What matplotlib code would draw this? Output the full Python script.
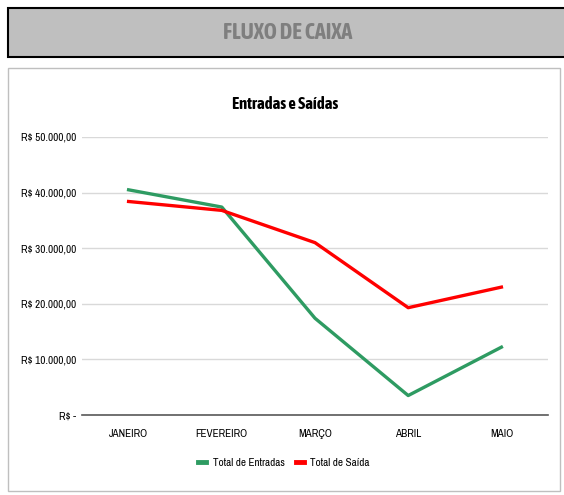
import matplotlib.pyplot as plt
from matplotlib.lines import Line2D
from matplotlib.patches import Rectangle
from matplotlib.ticker import FuncFormatter

# dados
meses = ["JANEIRO", "FEVEREIRO", "MARÇO", "ABRIL", "MAIO"]
entradas = [40500, 37400, 17400, 3500, 12200]
saidas = [38400, 36800, 31000, 19300, 23000]
yticks = [0, 10000, 20000, 30000, 40000, 50000]

narrow = ["Archivo Narrow", "DejaVu Sans"]
small = dict(family=narrow, size=8)

fig = plt.figure(figsize=(5.64, 4.95), dpi=100)

# faixa do cabeçalho
fig.patches.append(Rectangle((8 / 564, 1 - 57 / 495), 1.0, 49 / 495,
                             transform=fig.transFigure, facecolor="#bfbfbf",
                             edgecolor="black", linewidth=1.5, zorder=-2))
fig.text(288 / 564, 1 - 33 / 495, "FLUXO DE CAIXA", ha="center", va="center",
         fontsize=16, fontweight="bold", color="#7f7f7f",
         family=["Asap Condensed", "DejaVu Sans"])

# moldura do gráfico
fig.patches.append(Rectangle((8 / 564, 1 - 491 / 495), 552 / 564, 423 / 495,
                             transform=fig.transFigure, facecolor="white",
                             edgecolor="#bfbfbf", linewidth=1.0, zorder=-2))

ax = fig.add_axes([82 / 564, 80 / 495, 466 / 564, 278 / 495])
ax.set_zorder(2)
ax.set_facecolor("none")
x = range(len(meses))
ax.plot(x, entradas, color="#2e9b62", linewidth=2.4, label="Total de Entradas")
ax.plot(x, saidas, color="#ff0000", linewidth=2.4, label="Total de Saída")

ax.set_xlim(-0.5, len(meses) - 0.5)
ax.set_ylim(0, 50000)
ax.set_yticks(yticks)


def brl(v, pos):
    if v == 0:
        return "R\\$ -"
    s = f"{v:,.2f}".replace(",", "X").replace(".", ",").replace("X", ".")
    return "R\\$ " + s


ax.yaxis.set_major_formatter(FuncFormatter(brl))
ax.set_xticks(list(x))
ax.set_xticklabels(meses)
for lab in ax.get_xticklabels() + ax.get_yticklabels():
    lab.set_family(small["family"])
    lab.set_fontsize(small["size"])
    lab.set_color("#000000")
ax.tick_params(axis="both", length=0)
ax.tick_params(axis="y", pad=4)
ax.tick_params(axis="x", pad=10)
ax.grid(axis="y", color="#d9d9d9", linewidth=1)
ax.set_axisbelow(True)
for side in ["top", "right", "left"]:
    ax.spines[side].set_visible(False)
ax.spines["bottom"].set_color("#595959")
ax.spines["bottom"].set_linewidth(1.2)

fig.text(285 / 564, 1 - 104 / 495, "Entradas e Saídas", ha="center", va="center",
         fontsize=12, fontweight="bold", family=["Asap Condensed", "DejaVu Sans"])

handles = [Line2D([], [], color="#2e9b62", linewidth=3.5),
           Line2D([], [], color="#ff0000", linewidth=3.5)]
fig.legend(handles, ["Total de Entradas", "Total de Saída"], loc="center",
           bbox_to_anchor=(284 / 564, 1 - 463 / 495), ncol=2, frameon=False,
           handlelength=0.7, handletextpad=0.6, columnspacing=1.0,
           prop=small)

fig.savefig("out.png", dpi=100)
